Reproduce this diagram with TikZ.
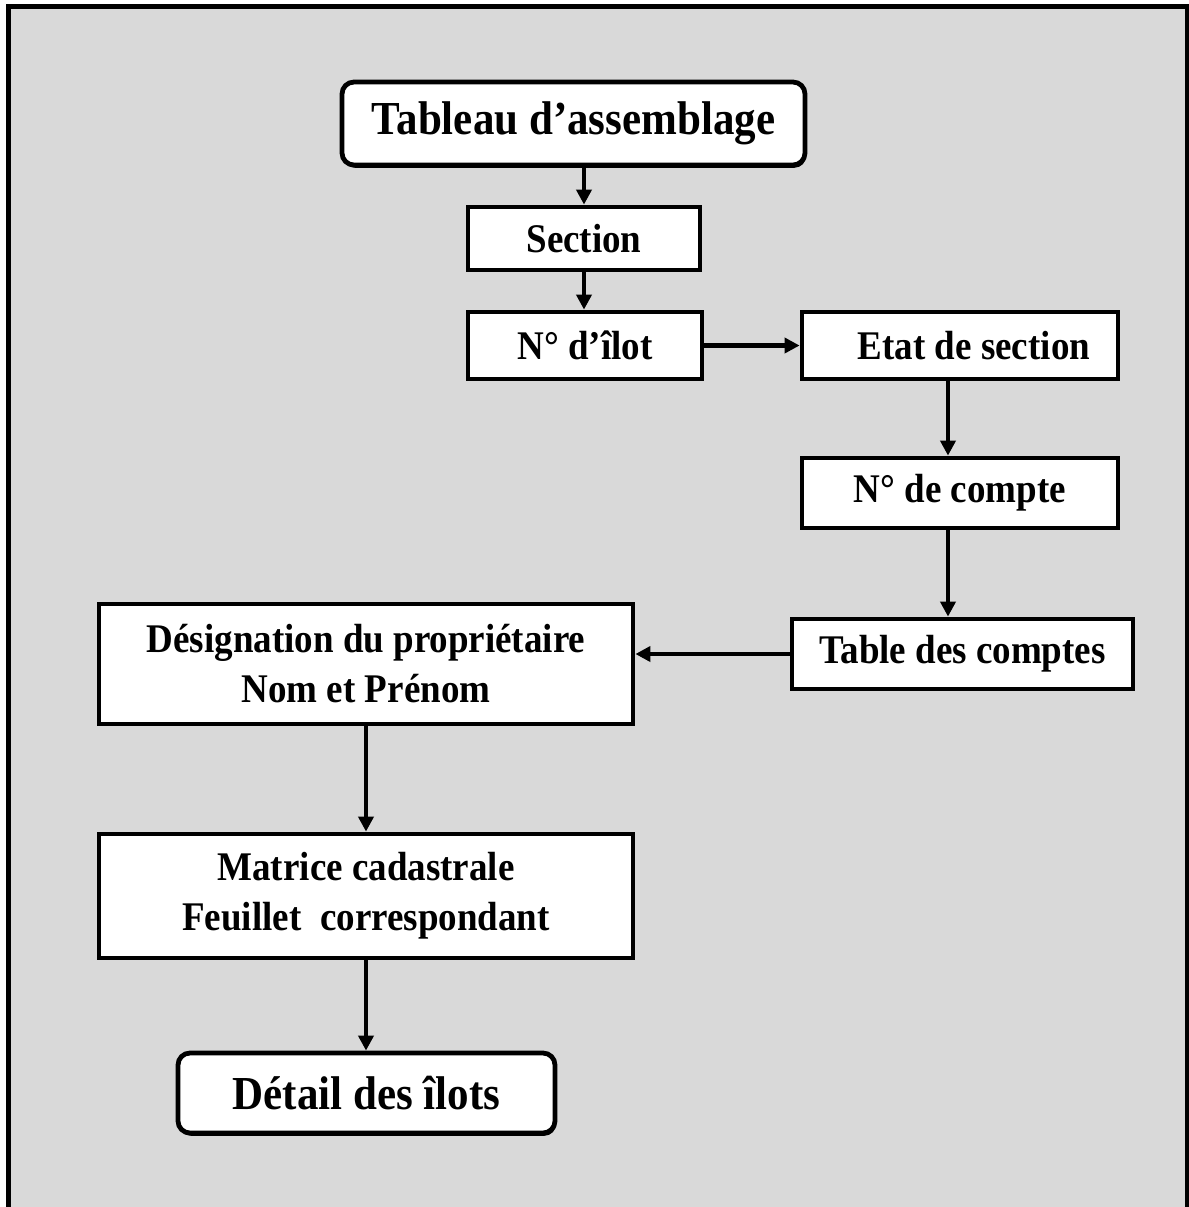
\documentclass[tikz,border=0pt]{standalone}
\usepackage{fontspec}
\setmainfont{Liberation Serif}
\usetikzlibrary{arrows.meta,shadows}
% bold labels are set slightly taller than wide
\newcommand{\tallline}[1]{\scalebox{1}[1.1]{#1}}

\begin{document}
\begin{tikzpicture}[x=0.5pt,y=-0.5pt,
  box/.style={draw=black, line width=2.4pt, fill=white, inner sep=0pt,
    font=\bfseries\fontsize{18.5pt}{25pt}\selectfont, align=center},
  titlebox/.style={box, rounded corners=6pt, line width=2.4pt,
    font=\bfseries\fontsize{21.5pt}{26pt}\selectfont,
    drop shadow={shadow xshift=0.6pt, shadow yshift=-1.4pt, fill=black, opacity=1}},
  link/.style={draw=black, line width=2.4pt, -{Triangle[length=7.5pt,width=7.5pt]}}
]
% page and framed grey panel
\useasboundingbox (0,0) rectangle (1189,1207);
\clip (0,0) rectangle (1189,1207);
\fill[white] (0,0) rectangle (1189,1207);
\draw[line width=2.5pt, fill={rgb,255:red,217;green,217;blue,217}]
  (8.5,1230) -- (8.5,6) -- (1187.5,6) -- (1187.5,1230);

% nodes
\node[titlebox, minimum width=231.5pt, minimum height=41.5pt] (tab) at (573.5,123.5) {\tallline{Tableau d’assemblage}};
\node[box, minimum width=116pt, minimum height=31.5pt] (sec) at (584,238.5) {\tallline{Section}};
\node[box, minimum width=117pt, minimum height=33.5pt] (ilot) at (585,345.5) {\tallline{N° d’îlot}};
\node[box, minimum width=158pt, minimum height=33.5pt] (etat) at (960,345.5) {\hspace*{14pt}\tallline{Etat de section}};
\node[box, minimum width=158pt, minimum height=35pt] (compte) at (960,493) {\tallline{N° de compte}};
\node[box, minimum width=170.5pt, minimum height=35pt] (table) at (962.5,654) {\tallline{Table des comptes}};
\node[box, minimum width=267pt, minimum height=60pt] (desig) at (366,664) {\tallline{Désignation du propriétaire}\\\tallline{Nom et Prénom}};
\node[box, minimum width=267pt, minimum height=62pt] (matrice) at (366,896) {\tallline{Matrice cadastrale}\\\tallline{Feuillet\ \ correspondant}};
\node[titlebox, minimum width=188.5pt, minimum height=40pt] (detail) at (366.5,1093) {\tallline{Détail des îlots}};

% connectors
\draw[link] (sec.north |- tab.south) -- (sec.north);
\draw[link] (sec.south) -- (sec.south |- ilot.north);
\draw[link] (ilot.east) -- (etat.west);
\draw[link] ([xshift=-6pt]etat.south) -- ([xshift=-6pt]compte.north);
\draw[link] ([xshift=-6pt]compte.south) -- ([xshift=-6pt]compte.south |- table.north);
\draw[link] (table.west) -- (table.west -| desig.east);
\draw[link] (desig.south) -- (matrice.north);
\draw[link] (matrice.south) -- (matrice.south |- detail.north);
\end{tikzpicture}
\end{document}
